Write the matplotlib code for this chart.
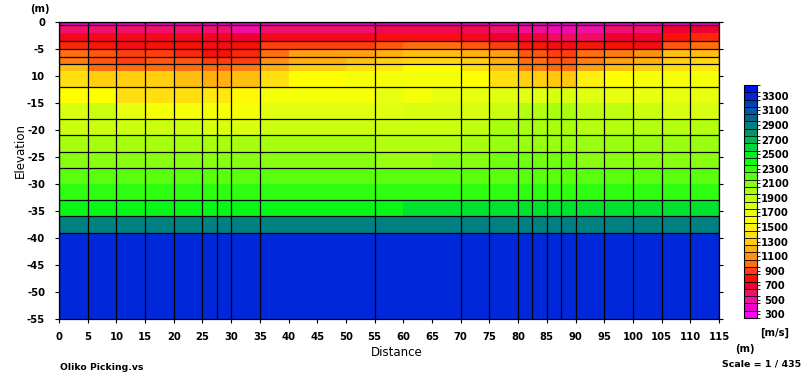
import matplotlib
matplotlib.use("Agg")
import matplotlib.pyplot as plt
from matplotlib.colors import ListedColormap, LinearSegmentedColormap, BoundaryNorm, Normalize
from matplotlib.cm import ScalarMappable

# model cell edges (distance in m, elevation in m)
x_edges = list(range(0, 120, 5))
z_edges = [0, -0.5, -2, -3.5, -5, -6.4, -7.7, -9, -12, -15, -18, -21, -24, -27,
           -30, -33, -36, -39, -55]

# velocity (m/s) per cell, one row per depth band, 23 columns of 5 m
velocity = [
    [400, 400, 400, 400, 400, 400, 400, 400, 400, 400, 400, 400, 400, 400, 400, 400, 400, 400, 400, 400, 400, 400, 400],
    [600, 600, 600, 600, 600, 580, 500, 600, 600, 600, 600, 650, 650, 650, 650, 600, 520, 480, 500, 600, 600, 700, 700],
    [750, 750, 750, 750, 750, 730, 700, 750, 750, 750, 750, 780, 780, 780, 750, 700, 680, 620, 620, 700, 720, 800, 850],
    [850, 820, 780, 800, 800, 780, 800, 900, 900, 900, 900, 950, 1000, 1000, 950, 900, 820, 780, 820, 800, 780, 950, 1000],
    [1000, 950, 900, 900, 850, 800, 850, 1000, 1150, 1150, 1150, 1200, 1250, 1250, 1200, 1150, 950, 900, 1000, 1050, 1100, 1250, 1250],
    [1050, 950, 900, 950, 950, 900, 900, 1100, 1200, 1200, 1250, 1300, 1350, 1350, 1300, 1200, 1000, 950, 1050, 1150, 1200, 1300, 1350],
    [1250, 1000, 1000, 1000, 1000, 1000, 1050, 1200, 1300, 1300, 1400, 1450, 1600, 1600, 1400, 1250, 1050, 1000, 1150, 1250, 1300, 1400, 1450],
    [1400, 1300, 1300, 1300, 1250, 1200, 1250, 1400, 1600, 1600, 1650, 1650, 1650, 1650, 1600, 1400, 1300, 1280, 1500, 1600, 1650, 1650, 1650],
    [1600, 1600, 1400, 1400, 1400, 1450, 1550, 1650, 1650, 1650, 1650, 1700, 1650, 1700, 1700, 1750, 1750, 1800, 1750, 1700, 1700, 1700, 1700],
    [1800, 1850, 1700, 1650, 1650, 1650, 1650, 1750, 1750, 1750, 1750, 1750, 1800, 1800, 1800, 1850, 1950, 2000, 1900, 1900, 1850, 1800, 1800],
    [1850, 1850, 1850, 1850, 1850, 1800, 1800, 1850, 1850, 1850, 1850, 1850, 1850, 1850, 1900, 2000, 2000, 2000, 1950, 1950, 1950, 1950, 1950],
    [2000, 2000, 2000, 2000, 2000, 2000, 2000, 2000, 2000, 2000, 2000, 1950, 1950, 1950, 2000, 2050, 2050, 2050, 2050, 2050, 2050, 2050, 2050],
    [2100, 2100, 2100, 2100, 2100, 2100, 2100, 2100, 2100, 2100, 2100, 2050, 2050, 2100, 2100, 2150, 2150, 2150, 2100, 2100, 2100, 2100, 2100],
    [2200, 2200, 2200, 2200, 2200, 2200, 2200, 2200, 2200, 2200, 2200, 2200, 2200, 2200, 2200, 2200, 2200, 2200, 2200, 2200, 2200, 2200, 2200],
    [2300, 2300, 2300, 2300, 2300, 2300, 2300, 2300, 2300, 2300, 2300, 2300, 2300, 2300, 2300, 2300, 2300, 2300, 2300, 2300, 2300, 2300, 2300],
    [2450, 2450, 2450, 2450, 2450, 2450, 2450, 2450, 2450, 2450, 2450, 2450, 2550, 2550, 2550, 2550, 2550, 2550, 2550, 2550, 2550, 2550, 2550],
    [2900, 2900, 2900, 2900, 2900, 2900, 2900, 2900, 2900, 2900, 2900, 2900, 2900, 2900, 2900, 2900, 2900, 2900, 2900, 2900, 2900, 2900, 2900],
    [3300, 3300, 3300, 3300, 3300, 3300, 3300, 3300, 3300, 3300, 3300, 3300, 3300, 3300, 3300, 3300, 3300, 3300, 3300, 3300, 3300, 3300, 3300],
]

# black layer / receiver lines drawn over the model
grid_x = [0, 5, 10, 15, 20, 25, 27.5, 30, 35, 55, 70, 75, 80, 82.5, 85, 87.5, 90,
          95, 100, 105, 110, 115]
grid_z = [0, -0.5, -3.5, -5, -6.4, -7.7, -12, -18, -21, -24, -27, -33, -36, -39]

# colour scale: one colour per 100 m/s step
levels = list(range(300, 3500, 100))
level_colors = [
    "#ff00ff", "#f000d0", "#f010a0", "#f01068", "#f00030", "#f81008", "#ff4010",
    "#ff7010", "#ff9010", "#ffb010", "#ffd010", "#ffe010", "#fff010", "#ffff00",
    "#e8ff10", "#d8ff10", "#c0ff10", "#a8ff10", "#88ff10", "#58ff10", "#30ff10",
    "#10ff10", "#00f020", "#00d840", "#00b850", "#009868", "#008080", "#006890",
    "#0058a8", "#0040c0", "#0028d8", "#0010f0",
]
cbar_ticks = list(range(300, 3400, 200))

x_ticks = list(range(0, 120, 5))
y_ticks = list(range(0, -60, -5))
y_ticklabels = ["0", "-5", "10", "-15", "-20", "-25", "-30", "-35", "-40", "-45", "-50", "-55"]

tick_font = dict(family="DejaVu Sans", weight="bold", size=7.2)

fig = plt.figure(figsize=(8.08, 3.85), dpi=100)
W, H = 808, 385

ax = fig.add_axes([59 / W, 1 - 319 / H, 660 / W, 297 / H])

span = levels[-1] - levels[0]
field_cmap = LinearSegmentedColormap.from_list(
    "vel", [((v - levels[0]) / span, c) for v, c in zip(levels, level_colors)])
ax.pcolormesh(x_edges, z_edges, velocity, cmap=field_cmap,
              norm=Normalize(levels[0], levels[-1]), shading="flat")

for gx in grid_x:
    ax.axvline(gx, color="black", lw=0.9)
for gz in grid_z:
    ax.axhline(gz, color="black", lw=0.9)

ax.set_xlim(0, 115)
ax.set_ylim(-55, 0)
ax.set_xticks(x_ticks)
ax.set_xticklabels([str(t) for t in x_ticks], **tick_font)
ax.set_yticks(y_ticks)
ax.set_yticklabels(y_ticklabels, **tick_font)
ax.tick_params(axis="x", length=3, width=0.8, pad=6)
ax.tick_params(axis="y", length=3, width=0.8, pad=7, right=True)
for s in ax.spines.values():
    s.set_linewidth(0.9)

fig.text(40 / W, 1 - 9 / H, "(m)", ha="center", va="center", **tick_font)
fig.text(20 / W, 1 - 150 / H, "Elevation", rotation=90, ha="center", va="center",
         family="DejaVu Sans", size=8.5)
fig.text(397 / W, 1 - 353 / H, "Distance", ha="center", va="center",
         family="DejaVu Sans", size=8.5)
fig.text(60 / W, 1 - 367 / H, "Oliko Picking.vs", ha="left", va="center",
         family="DejaVu Sans", weight="bold", size=6.7)

# colour bar with one box per level
cax = fig.add_axes([744 / W, 1 - 318 / H, 13 / W, 233 / H])
bounds = [v - 50 for v in levels] + [levels[-1] + 50]
sm = ScalarMappable(norm=BoundaryNorm(bounds, len(levels)), cmap=ListedColormap(level_colors))
cb = fig.colorbar(sm, cax=cax, ticks=cbar_ticks, drawedges=True)
cb.outline.set_linewidth(0.8)
cb.dividers.set_linewidth(0.6)
cax.set_yticklabels([str(t) for t in cbar_ticks], **tick_font)
cax.tick_params(length=2, width=0.6, pad=11)
plt.setp(cax.get_yticklabels(), ha="center")

fig.text(775 / W, 1 - 333 / H, "[m/s]", ha="center", va="center", **tick_font)
fig.text(745 / W, 1 - 349 / H, "(m)", ha="center", va="center", **tick_font)
fig.text(762 / W, 1 - 364 / H, "Scale = 1 / 435", ha="center", va="center",
         family="DejaVu Sans", weight="bold", size=6.8)

fig.savefig("out.png", dpi=100)
